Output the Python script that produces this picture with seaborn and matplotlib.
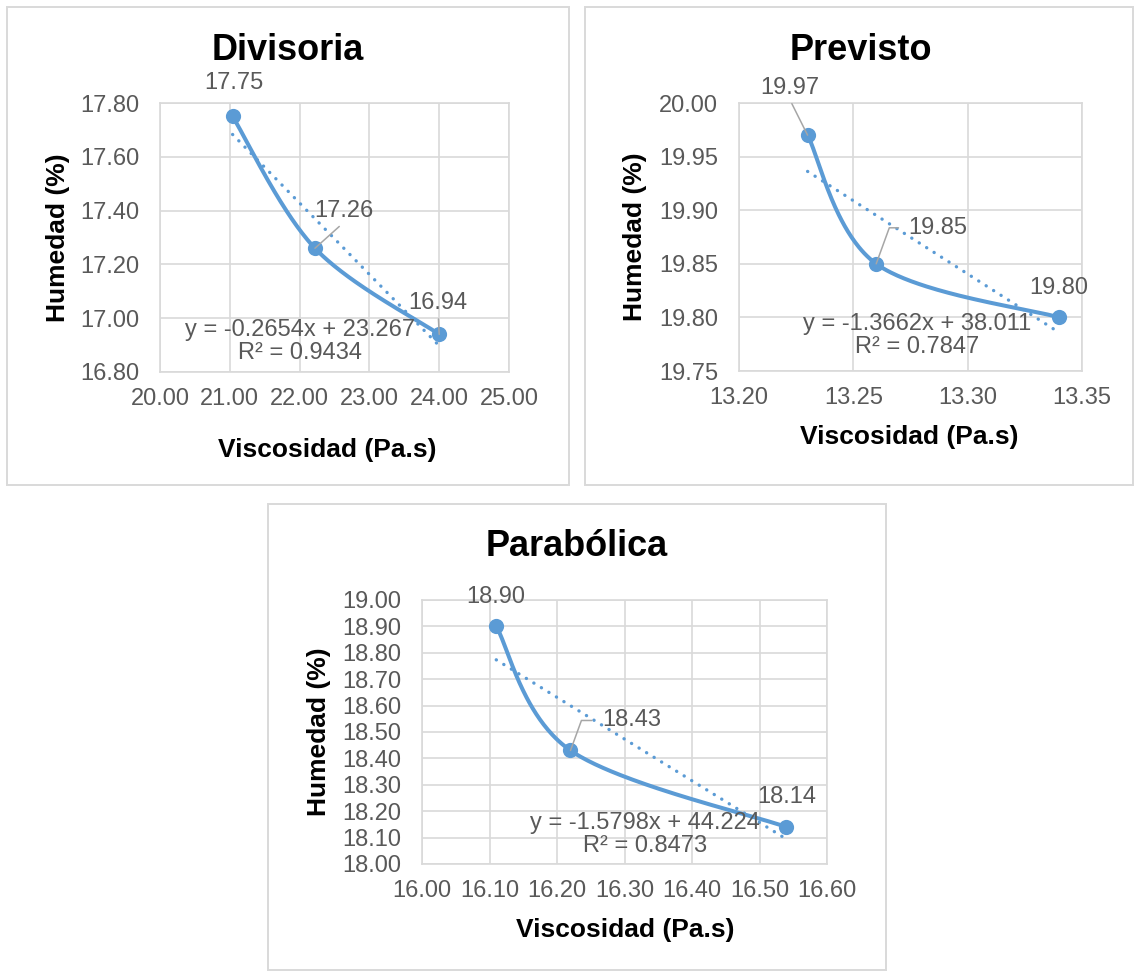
import numpy as np
import pandas as pd
import matplotlib
matplotlib.use("Agg")
import matplotlib.pyplot as plt
import seaborn as sns
from matplotlib.patches import Rectangle

# ---------------- data ----------------
titles = ["Divisoria", "Previsto", "Parabólica"]

div_x = [21.04, 22.22, 24.00]
div_y = [17.75, 17.26, 16.94]
prev_x = [13.23, 13.26, 13.34]
prev_y = [19.97, 19.85, 19.80]
para_x = [16.11, 16.22, 16.54]
para_y = [18.90, 18.43, 18.14]

div_trend = [-0.2654, 23.267]
prev_trend = [-1.3662, 38.011]
para_trend = [-1.5798, 44.224]

div_eq = "y = -0.2654x + 23.267\nR² = 0.9434"
prev_eq = "y = -1.3662x + 38.011\nR² = 0.7847"
para_eq = "y = -1.5798x + 44.224\nR² = 0.8473"

div_xticks = [20.00, 21.00, 22.00, 23.00, 24.00, 25.00]
div_yticks = [16.80, 17.00, 17.20, 17.40, 17.60, 17.80]
prev_xticks = [13.20, 13.25, 13.30, 13.35]
prev_yticks = [19.75, 19.80, 19.85, 19.90, 19.95, 20.00]
para_xticks = [16.00, 16.10, 16.20, 16.30, 16.40, 16.50, 16.60]
para_yticks = [18.00, 18.10, 18.20, 18.30, 18.40, 18.50, 18.60, 18.70, 18.80, 18.90, 19.00]

x_label = "Viscosidad (Pa.s)"
y_label = "Humedad (%)"

# ---------------- style ----------------
sns.set_style("white")
plt.rcParams["font.family"] = ["Liberation Sans", "DejaVu Sans"]

BLUE = "#5B9BD5"
GRID = "#D9D9D9"
TXT = "#595959"
LEAD = "#A6A6A6"

W, H = 1136, 973
fig = plt.figure(figsize=(W / 100, H / 100), dpi=100)
fig.patch.set_facecolor("white")


def smooth(xs, ys, n=80):
    P = np.column_stack([xs, ys]).astype(float)
    pts = np.vstack([P[0], P, P[-1]])
    out = []
    t = np.linspace(0, 1, n)[:, None]
    for i in range(1, len(pts) - 2):
        p0, p1, p2, p3 = pts[i - 1], pts[i], pts[i + 1], pts[i + 2]
        b1 = p1 + (p2 - p0) / 6.0
        b2 = p2 - (p3 - p1) / 6.0
        seg = (1 - t) ** 3 * p1 + 3 * (1 - t) ** 2 * t * b1 + 3 * (1 - t) * t ** 2 * b2 + t ** 3 * p2
        out.append(seg if i == 1 else seg[1:])
    return np.vstack(out)


panels = [
    dict(title=titles[0], x=div_x, y=div_y, trend=div_trend, eq=div_eq,
         xt=div_xticks, yt=div_yticks,
         ax=(160, 103, 509, 372), box=(7, 7, 569, 485), tpos=(288, 50),
         ylab=(-0.292, 0.5), xlab=(0.479, -0.29), eqpos=(0.401, 0.112),
         labels=[((1, 33), None), ((29, 37), "straight"), ((-1, 31), "straight")]),
    dict(title=titles[1], x=prev_x, y=prev_y, trend=prev_trend, eq=prev_eq,
         xt=prev_xticks, yt=prev_yticks,
         ax=(739, 103, 1082, 371), box=(585, 7, 1133, 485), tpos=(861, 50),
         ylab=(-0.303, 0.5), xlab=(0.496, -0.246), eqpos=(0.519, 0.134),
         labels=[((-18, 47), "straight"), ((62, 36), "angle"), ((0, 29), None)]),
    dict(title=titles[2], x=para_x, y=para_y, trend=para_trend, eq=para_eq,
         xt=para_xticks, yt=para_yticks,
         ax=(422, 600, 827, 864), box=(268, 504, 886, 970), tpos=(577, 547),
         ylab=(-0.254, 0.5), xlab=(0.501, -0.25), eqpos=(0.551, 0.112),
         labels=[((0, 29), None), ((61, 30), "angle"), ((0, 30), None)]),
]

for p in panels:
    bx0, by0, bx1, by1 = p["box"]
    fig.add_artist(Rectangle((bx0 / W, 1 - by1 / H), (bx1 - bx0) / W, (by1 - by0) / H,
                             transform=fig.transFigure, fill=False,
                             edgecolor=GRID, lw=1.4))
    x0, y0, x1, y1 = p["ax"]
    ax = fig.add_axes([x0 / W, 1 - y1 / H, (x1 - x0) / W, (y1 - y0) / H])
    ax.set_facecolor("white")

    xs, ys = p["x"], p["y"]
    curve = smooth(xs, ys)
    cdf = pd.DataFrame({"x": curve[:, 0], "y": curve[:, 1]})
    sns.lineplot(data=cdf, x="x", y="y", sort=False, estimator=None, ax=ax,
                 color=BLUE, lw=2.9, zorder=3)

    m, b = p["trend"]
    tx = np.array([xs[0], xs[-1]])
    tdf = pd.DataFrame({"x": tx, "y": m * tx + b})
    sns.lineplot(data=tdf, x="x", y="y", sort=False, estimator=None, ax=ax,
                 color=BLUE, lw=2.4, zorder=2, dashes=False)
    ax.lines[-1].set_linestyle((0, (0.05, 2.6)))
    ax.lines[-1].set_dash_capstyle("round")

    pdf = pd.DataFrame({"x": xs, "y": ys})
    sns.scatterplot(data=pdf, x="x", y="y", ax=ax, color=BLUE, s=120,
                    edgecolor=BLUE, linewidth=0, zorder=4)

    for (xv, yv), (off, lead) in zip(zip(xs, ys), p["labels"]):
        kw = dict(textcoords="offset pixels", ha="center", va="center",
                  fontsize=17, color=TXT, zorder=6)
        if lead == "straight":
            kw["arrowprops"] = dict(arrowstyle="-", color=LEAD, lw=1.1,
                                    shrinkA=1, shrinkB=0, relpos=(0.5, 0.0))
        elif lead == "angle":
            kw["arrowprops"] = dict(arrowstyle="-", color=LEAD, lw=1.1,
                                    shrinkA=5, shrinkB=0, relpos=(0.0, 0.5),
                                    connectionstyle="angle,angleA=0,angleB=70,rad=0")
        ax.annotate(f"{yv:.2f}", xy=(xv, yv), xytext=off, **kw)

    ax.text(p["eqpos"][0], p["eqpos"][1], p["eq"], transform=ax.transAxes,
            ha="center", va="center", fontsize=17, color=TXT, zorder=5,
            linespacing=1.05)

    ax.set_xlim(p["xt"][0], p["xt"][-1])
    ax.set_ylim(p["yt"][0], p["yt"][-1])
    ax.set_xticks(p["xt"])
    ax.set_xticklabels([f"{v:.2f}" for v in p["xt"]])
    ax.set_yticks(p["yt"])
    ax.set_yticklabels([f"{v:.2f}" for v in p["yt"]])
    ax.grid(True, color=GRID, lw=1.2)
    ax.set_axisbelow(True)
    for s in ax.spines.values():
        s.set_color(GRID)
        s.set_linewidth(1.2)
    ax.tick_params(axis="both", length=0, labelsize=17, labelcolor=TXT)
    ax.tick_params(axis="x", pad=11.5)
    ax.tick_params(axis="y", pad=15)

    ax.set_xlabel(x_label, fontsize=19, fontweight="bold", color="black")
    ax.set_ylabel(y_label, fontsize=19, fontweight="bold", color="black")
    ax.xaxis.label.set_va("center")
    ax.yaxis.label.set_va("center")
    ax.xaxis.set_label_coords(*p["xlab"])
    ax.yaxis.set_label_coords(*p["ylab"])

    fig.text(p["tpos"][0] / W, 1 - p["tpos"][1] / H, p["title"], ha="center",
             va="center", fontsize=26, fontweight="bold", color="black")

fig.savefig("out.png", dpi=100, facecolor="white")
